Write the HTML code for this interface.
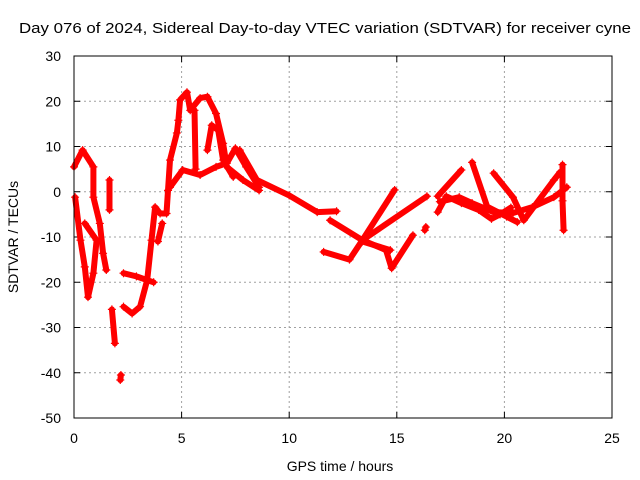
<!DOCTYPE html>
<html><head><meta charset="utf-8"><style>
body{margin:0;background:#fff;}
svg{display:block;font-family:"Liberation Sans",sans-serif;}
</style></head><body>
<svg id="chart" width="640" height="480" viewBox="0 0 640 480">
<rect width="640" height="480" fill="#fff"/>
<text x="325" y="33" text-anchor="middle" font-size="14.5" textLength="612" lengthAdjust="spacingAndGlyphs">Day 076 of 2024, Sidereal Day-to-day VTEC variation (SDTVAR) for receiver cyne</text>
<g id="grid"></g>
<g id="ticks"></g>
<g id="marks"></g>
<rect x="74" y="56" width="538" height="362" fill="none" stroke="#000" stroke-width="1"/>
<text x="340" y="471" text-anchor="middle" font-size="14">GPS time / hours</text>
<text transform="translate(18,237) rotate(-90)" text-anchor="middle" font-size="14">SDTVAR / TECUs</text>
</svg>
<script>
const xTicks=[0,5,10,15,20,25];
const yTicks=[30,20,10,0,-10,-20,-30,-40,-50];
const trackHours=[
[0,0.4,0.9,0.9,1.2,1.35,1.5],
[0.05,0.3,0.5,0.65,0.9,1.05,0.5],
[1.65,1.65],
[1.76,1.9],
[2.15,2.18],
[2.3,2.9,3.7],
[2.3,2.7,3.07,3.4,3.6,3.77,4.0,4.3,4.37,4.46,4.78,4.85,4.93,5.25,5.4,5.86,6.2,6.6,6.93,7.1,7.85,8.6],
[3.9,4.1],
[4.46,5.05,5.86,6.6,7.1,7.5,8.0,8.6],
[6.2,6.4,6.7,6.93,7.4],
[5.6,5.65],
[7.7,8.5,10,11.3,12.2],
[11.9,13.4,14.5],
[14.5,14.76,15.75],
[11.6,12.8,13.4,14.9],
[13.4,14.7],
[13.4,16.4],
[16.3,16.35],
[16.9,18.0],
[16.9,17.3,18.0,18.8,19.4,19.8,20.3],
[18.5,19.2,20.1,20.6],
[19.5,20.4,20.9,22.3,22.6],
[17.0,17.9,18.5,19.5,20.4,21.3,22.3,22.9],
[22.7,22.7,22.75]
];
const trackValues=[
[5.5,9.2,5.5,-1.2,-7,-13.6,-17.3],
[-1.2,-10.7,-16.6,-23.3,-18,-10.7,-7],
[-4,2.6],
[-26,-33.5],
[-41.6,-40.5],
[-18,-18.7,-20],
[-25.4,-26.9,-25.4,-19.5,-10.7,-3.4,-4.8,-4.8,0.3,7,13,15.8,20.3,22,18,20.7,21,17.3,10.7,5.5,2.6,0.3],
[-11,-7],
[1,4.8,3.7,5.5,6.3,9.6,5.5,1],
[9.2,14.7,13.6,7,3.3],
[18,5],
[9.2,2.6,-0.8,-4.5,-4.3],
[-6.3,-10.7,-12.9],
[-12.9,-16.9,-9.6],
[-13.3,-15,-10.7,0.4],
[-11,-12.9],
[-10.7,-1],
[-8.5,-7.8],
[-1,4.8],
[-4.5,-1,-2.5,-4,-6,-5,-3.5],
[6.5,-3.3,-5.5,-6.7],
[4.1,-1.2,-6.3,2.6,4.4],
[-2.2,-1.2,-2.5,-4.5,-4.7,-3.4,-1.2,1],
[6,-2,-8.5]
];
const NS='http://www.w3.org/2000/svg';
const X0=74,X1=612,Y0=56,Y1=418;
function xs(h){return X0+(h-0)/(25-0)*(X1-X0);}
function ys(v){return Y1-(v-(-50))/(30-(-50))*(Y1-Y0);}
const grid=document.getElementById('grid'),ticks=document.getElementById('ticks'),marks=document.getElementById('marks');
function mk(t,a,p){const e=document.createElementNS(NS,t);for(const k in a)e.setAttribute(k,a[k]);p.appendChild(e);return e;}
xTicks.forEach(t=>{
 const x=xs(t);
 if(t>0&&t<25){const g=mk('line',{x1:x,x2:x,y1:Y0,y2:Y1,stroke:'#a0a0a0','stroke-dasharray':'2,3'},grid);
 
 }
 mk('line',{x1:x,x2:x,y1:Y1,y2:Y1-6,stroke:'#000'},ticks);
 mk('line',{x1:x,x2:x,y1:Y0,y2:Y0+6,stroke:'#000'},ticks);
 const l=mk('text',{x:x,y:Y1+25,'text-anchor':'middle','font-size':'14'},ticks);
 l.textContent=t;
 
 
});
yTicks.forEach(t=>{
 const y=ys(t);
 if(t<30&&t>-50){const g=mk('line',{x1:X0,x2:X1,y1:y,y2:y,stroke:'#a0a0a0','stroke-dasharray':'2,3'},grid);
 
 }
 mk('line',{x1:X0,x2:X0+6,y1:y,y2:y,stroke:'#000'},ticks);
 mk('line',{x1:X1,x2:X1-6,y1:y,y2:y,stroke:'#000'},ticks);
 const l=mk('text',{x:X0-13,y:y+5,'text-anchor':'end','font-size':'14'},ticks);
 l.textContent=t;
 
 
});
trackHours.forEach((hs,i)=>{
 const vs=trackValues[i];
 const pts=hs.map((h,j)=>xs(h).toFixed(1)+','+ys(vs[j]).toFixed(1)).join(' ');
 const pl=mk('polyline',{points:pts,fill:'none',stroke:'#ff0000','stroke-width':'6','stroke-linejoin':'round','stroke-linecap':'round'},marks);
 
 
 hs.forEach((h,j)=>{
  const x=xs(h),y=ys(vs[j]);
  const p=mk('path',{d:`M${x-4},${y}H${x+4}M${x},${y-4}V${y+4}`,stroke:'#ff0000','stroke-width':'1.2'},marks);
  
  
 });
});
</script>
</body></html>
